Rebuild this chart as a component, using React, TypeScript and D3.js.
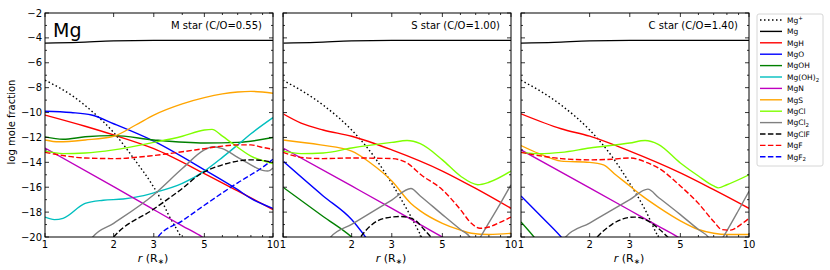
import * as d3 from "d3";

type Pt = [number, number];
type Series = { key: string; pts: Pt[] };

// legend order, also draw order
const speciesKeys = ["Mg+", "Mg", "MgH", "MgO", "MgOH", "Mg(OH)2", "MgN", "MgS", "MgCl", "MgCl2", "MgClF", "MgF", "MgF2"];

const xTicks = [1, 2, 3, 4, 5, 6, 7, 8, 9, 10];
const xTickLabels = [1, 2, 3, 5, 10];
const yTicks = d3.range(-20, -1, 1);
const yTickLabels = [-20, -18, -16, -14, -12, -10, -8, -6, -4, -2];

const panelTitles = ["M star (C/O=0.55)", "S star (C/O=1.00)", "C star (C/O=1.40)"];

const mgAtom: Pt[] = [[1, -4.42], [1.4, -4.36], [2, -4.24], [3, -4.2], [10, -4.2]];

const mStar: Series[] = [
  { key: "Mg+", pts: [[1, -7.4], [1.33, -8.7], [1.63, -10.0], [2, -11.6], [2.43, -13.6], [3, -16.0], [3.23, -17.0], [3.5, -18.3], [3.95, -20], [4.2, -21]] },
  { key: "Mg", pts: mgAtom },
  { key: "MgH", pts: [[1, -10.2], [1.5, -11.1], [2, -11.8], [3, -12.9], [5, -14.9], [7, -16.3], [10, -17.8]] },
  { key: "MgO", pts: [[1, -9.9], [1.3, -10.0], [1.6, -10.2], [2, -10.9], [3, -12.3], [5, -14.6], [7, -16.2], [8, -16.9], [10, -17.7]] },
  { key: "MgOH", pts: [[1, -11.95], [1.2, -12.15], [1.5, -11.95], [2, -11.85], [3, -12.2], [5, -12.45], [7, -12.4], [10, -12.0]] },
  { key: "Mg(OH)2", pts: [[1, -18.4], [1.1, -18.6], [1.2, -18.5], [1.5, -17.3], [1.8, -17.05], [2.2, -16.95], [2.5, -16.8], [3, -16.45], [4, -15.7], [5, -14.7], [6, -13.6], [7, -12.6], [8, -11.7], [10, -10.4]] },
  { key: "MgN", pts: [[1, -12.85], [2, -15.95], [3, -17.8], [4, -19.1], [4.9, -20], [5.5, -20.6]] },
  { key: "MgS", pts: [[1, -12.2], [1.15, -12.35], [1.5, -12.2], [2, -11.9], [2.5, -11.0], [3, -10.2], [4, -9.3], [5, -8.8], [6, -8.5], [7, -8.35], [8, -8.3], [10, -8.45]] },
  { key: "MgCl", pts: [[1, -13.1], [1.2, -13.3], [1.5, -13.25], [2, -13.0], [3, -12.4], [4, -11.9], [5, -11.4], [5.4, -11.35], [6, -11.9], [6.6, -12.45], [8, -13.5], [10, -14.1]] },
  { key: "MgCl2", pts: [[1.55, -20.5], [1.62, -20], [2, -18.9], [3, -16.6], [4, -14.5], [5, -13.0], [5.45, -12.75], [6, -12.9], [7, -13.6], [8, -14.2], [9, -14.65], [9.5, -14.7], [10, -14.45]] },
  { key: "MgClF", pts: [[1.9, -20.5], [2, -20], [3, -17.75], [4, -16.1], [4.75, -15.0], [6, -14.2], [7, -13.9], [8, -13.8], [9, -13.85], [10, -14.0]] },
  { key: "MgF", pts: [[1, -13.2], [1.5, -13.65], [2, -13.7], [3, -13.45], [4, -13.15], [5, -12.9], [6, -12.7], [7, -12.6], [8, -12.6], [9, -12.8], [10, -12.95]] },
  { key: "MgF2", pts: [[3.0, -20.5], [3.13, -20], [4, -18.7], [5, -17.45], [6, -16.45], [7, -15.65], [8, -15.0], [9, -14.4], [10, -13.75]] },
];

const sStar: Series[] = [
  { key: "Mg+", pts: [[1, -7.4], [1.5, -9.4], [2, -11.4], [2.5, -13.5], [3, -15.7], [3.5, -17.8], [4.05, -20], [4.3, -21]] },
  { key: "Mg", pts: mgAtom },
  { key: "MgH", pts: [[1, -10.1], [1.2, -10.85], [1.5, -11.4], [2, -11.9], [3, -13.0], [5, -14.7], [7, -16.1], [10, -17.7]] },
  { key: "MgO", pts: [[1, -13.9], [1.5, -16.7], [2, -18.6], [2.3, -20], [2.45, -20.7]] },
  { key: "MgOH", pts: [[1, -16.0], [1.5, -18.35], [2, -20], [2.2, -20.7]] },
  { key: "MgN", pts: [[1, -12.85], [2, -15.9], [3, -17.7], [4, -19.0], [5, -20], [5.5, -20.4]] },
  { key: "MgS", pts: [[1, -12.2], [1.46, -12.6], [2, -13.1], [2.42, -14.05], [3, -15.5], [3.64, -17.3], [4, -17.9], [5, -18.9], [6, -19.45], [6.7, -19.7], [8, -19.8], [10, -19.7]] },
  { key: "MgCl", pts: [[1, -13.1], [1.2, -13.3], [1.5, -13.25], [2, -12.85], [3, -12.4], [3.5, -12.25], [4, -12.5], [5, -13.8], [6, -15.1], [7.15, -15.8], [8, -15.6], [10, -14.7]] },
  { key: "MgCl2", pts: [[1, -2], [1.003, -21], [1.55, -21], [1.62, -20], [2, -18.98], [3, -17.03], [3.64, -16.1], [4, -16.7], [5, -18.2], [6, -19.4], [6.6, -20], [6.8, -20.5], [7.1, -20.5], [7.35, -20], [8, -18.85], [9, -17.27], [10, -15.8]] },
  { key: "MgClF", pts: [[2.1, -20.5], [2.19, -20], [2.42, -19.1], [2.78, -18.5], [3.28, -18.35], [3.76, -18.6], [4.16, -19.4], [4.45, -20], [4.7, -20.5]] },
  { key: "MgF", pts: [[1, -13.2], [1.2, -13.6], [1.5, -13.7], [2, -13.65], [3, -13.7], [3.5, -14.05], [4.03, -15.0], [5, -16.2], [6, -17.8], [6.7, -18.9], [7.3, -19.3], [8, -19.2], [9, -18.8], [10, -18.4]] },
];

const cStar: Series[] = [
  { key: "Mg+", pts: [[1, -7.4], [1.5, -9.4], [2, -11.4], [2.5, -13.5], [3, -15.7], [3.5, -17.8], [4.0, -20], [4.3, -21]] },
  { key: "Mg", pts: mgAtom },
  { key: "MgH", pts: [[1, -10.1], [1.5, -11.3], [2, -11.9], [3, -13.1], [5, -14.85], [7, -16.2], [10, -17.7]] },
  { key: "MgO", pts: [[1, -16.7], [1.2, -18.18], [1.5, -20], [1.6, -20.6]] },
  { key: "MgOH", pts: [[1, -18.8], [1.14, -20], [1.2, -20.5]] },
  { key: "MgN", pts: [[1, -13.0], [2, -16.06], [3, -17.85], [4, -19.12], [4.88, -20], [5.3, -20.4]] },
  { key: "MgS", pts: [[1, -12.65], [1.2, -13.3], [1.5, -13.9], [2, -14.0], [2.3, -14.2], [2.6, -15.0], [3, -15.9], [3.4, -16.7], [4, -17.6], [5, -18.7], [6, -19.4], [7, -19.7], [8, -19.8], [10, -19.8]] },
  { key: "MgCl", pts: [[1, -13.2], [1.2, -13.3], [1.5, -13.2], [2, -12.85], [3, -12.45], [3.5, -12.25], [4, -12.55], [5, -14.05], [6, -15.1], [7, -15.9], [7.33, -16.05], [8, -15.8], [10, -15.0]] },
  { key: "MgCl2", pts: [[1.5, -20.5], [1.57, -20], [2, -18.88], [3, -17.0], [3.6, -16.15], [4, -16.8], [5, -18.2], [6, -19.4], [6.62, -20], [6.9, -20.5], [7.4, -20.5], [7.7, -20], [8, -19.5], [9, -17.85], [10, -16.33]] },
  { key: "MgClF", pts: [[2.05, -20.5], [2.16, -20], [2.5, -19.0], [2.8, -18.55], [3.14, -18.4], [3.6, -18.7], [4.0, -19.3], [4.4, -20], [4.7, -20.5]] },
  { key: "MgF", pts: [[1, -13.2], [1.5, -13.7], [2, -13.8], [2.5, -13.75], [3, -13.65], [3.6, -14.05], [4, -14.45], [5, -15.9], [6, -17.3], [7, -18.75], [7.6, -19.4], [8.3, -19.45], [9.2, -19.0], [10, -18.5]] },
];

const panelData = [mStar, sStar, cStar];

const styles: Record<string, { color: string; dash?: string }> = {
  "Mg+": { color: "#000000", dash: "1.5,2.5" },
  Mg: { color: "#000000" },
  MgH: { color: "#ff0000" },
  MgO: { color: "#0000ff" },
  MgOH: { color: "#008000" },
  "Mg(OH)2": { color: "#00bfbf" },
  MgN: { color: "#bf00bf" },
  MgS: { color: "#ffa500" },
  MgCl: { color: "#7fff00" },
  MgCl2: { color: "#808080" },
  MgClF: { color: "#000000", dash: "5.5,2.4" },
  MgF: { color: "#ff0000", dash: "5.5,2.4" },
  MgF2: { color: "#0000ff", dash: "5.5,2.4" },
};

const FONT = "DejaVu Sans, sans-serif";
const W = 830;
const H = 270;
const TOP = 13;
const BOTTOM = 237;
const PW = 228;
const panelLefts = [45, 283, 521];

const fmt = (v: number) => (v < 0 ? "\u2212" + Math.abs(v) : String(v));

function LegendLabel({ name, x, y }: { name: string; x: number; y: number }) {
  const m = name.match(/^(.*?)(\d|\+)$/);
  if (!m || name === "Mg") {
    return <text x={x} y={y} fontSize={7.5} fontFamily={FONT}>{name}</text>;
  }
  const sup = m[2] === "+";
  return (
    <text x={x} y={y} fontSize={7.5} fontFamily={FONT}>
      {m[1]}
      <tspan fontSize={5.5} dy={sup ? -3 : 1.8}>{m[2]}</tspan>
    </text>
  );
}

function Panel({ idx }: { idx: number }) {
  const left = panelLefts[idx];
  const x = d3.scaleLog().domain([1, 10]).range([left, left + PW]);
  const y = d3.scaleLinear().domain([-20, -2]).range([BOTTOM, TOP]);
  const line = d3
    .line<Pt>()
    .x((d) => x(d[0]))
    .y((d) => y(d[1]))
    .curve(d3.curveMonotoneX);
  const clipId = `clip-${idx}`;
  const cx = left + PW / 2 - 6;
  return (
    <g>
      <defs>
        <clipPath id={clipId}>
          <rect x={left} y={TOP} width={PW} height={BOTTOM - TOP} />
        </clipPath>
      </defs>
      <g clipPath={`url(#${clipId})`}>
        {panelData[idx].map((s) => (
          <path
            key={s.key}
            d={line(s.pts) || ""}
            fill="none"
            stroke={styles[s.key].color}
            strokeWidth={1.4}
            strokeDasharray={styles[s.key].dash}
          />
        ))}
      </g>
      {/* ticks inward on all sides */}
      {yTicks.map((t) => {
        const len = t % 2 === 0 ? 4 : 2;
        return (
          <g key={`y${t}`} stroke="#000" strokeWidth={0.8}>
            <line x1={left} x2={left + len} y1={y(t)} y2={y(t)} />
            <line x1={left + PW} x2={left + PW - len} y1={y(t)} y2={y(t)} />
          </g>
        );
      })}
      {xTicks.map((t) => {
        const len = xTickLabels.includes(t) ? 4 : 2;
        return (
          <g key={`x${t}`} stroke="#000" strokeWidth={0.8}>
            <line x1={x(t)} x2={x(t)} y1={BOTTOM} y2={BOTTOM - len} />
            <line x1={x(t)} x2={x(t)} y1={TOP} y2={TOP + len} />
          </g>
        );
      })}
      <rect x={left} y={TOP} width={PW} height={BOTTOM - TOP} fill="none" stroke="#000" strokeWidth={1} />
      {xTickLabels.map((t) => (
        <text key={`xl${t}`} x={x(t)} y={248} fontSize={10} fontFamily={FONT} textAnchor="middle">
          {t}
        </text>
      ))}
      {idx === 0 &&
        yTickLabels.map((t) => (
          <text key={`yl${t}`} x={left - 3} y={y(t) + 3.6} fontSize={10} fontFamily={FONT} textAnchor="end">
            {fmt(t)}
          </text>
        ))}
      <text x={cx} y={262} fontSize={11} fontFamily={FONT} textAnchor="middle">
        <tspan fontStyle="italic">r</tspan>
        {" (R"}
        <tspan fontSize={7.5} dy={2}>{"\u2217"}</tspan>
        <tspan dy={-2}>{")"}</tspan>
      </text>
      <text x={left + PW - 11} y={29} fontSize={10} fontFamily={FONT} textAnchor="end">
        {panelTitles[idx]}
      </text>
    </g>
  );
}

export default function App() {
  const legendTop = 20;
  const legendStep = 11.4;
  return (
    <svg width={W} height={H} style={{ position: "absolute", left: 0, top: 0, background: "#fff" }}>
      <rect x={0} y={0} width={W} height={H} fill="#fff" />
      {[0, 1, 2].map((i) => (
        <Panel key={i} idx={i} />
      ))}
      <text x={53} y={37} fontSize={19} fontFamily={FONT}>
        Mg
      </text>
      <text
        transform={`translate(15,122) rotate(-90)`}
        fontSize={10}
        fontFamily={FONT}
        textAnchor="middle"
      >
        log mole fraction
      </text>
      <rect x={757} y={14} width={66} height={152} rx={2} fill="#fff" stroke="#cccccc" strokeWidth={0.8} />
      {speciesKeys.map((k, i) => {
        const ly = legendTop + i * legendStep;
        return (
          <g key={k}>
            <line
              x1={760}
              x2={782}
              y1={ly}
              y2={ly}
              stroke={styles[k].color}
              strokeWidth={1.4}
              strokeDasharray={styles[k].dash}
            />
            <LegendLabel name={k} x={787} y={ly + 2.7} />
          </g>
        );
      })}
    </svg>
  );
}
